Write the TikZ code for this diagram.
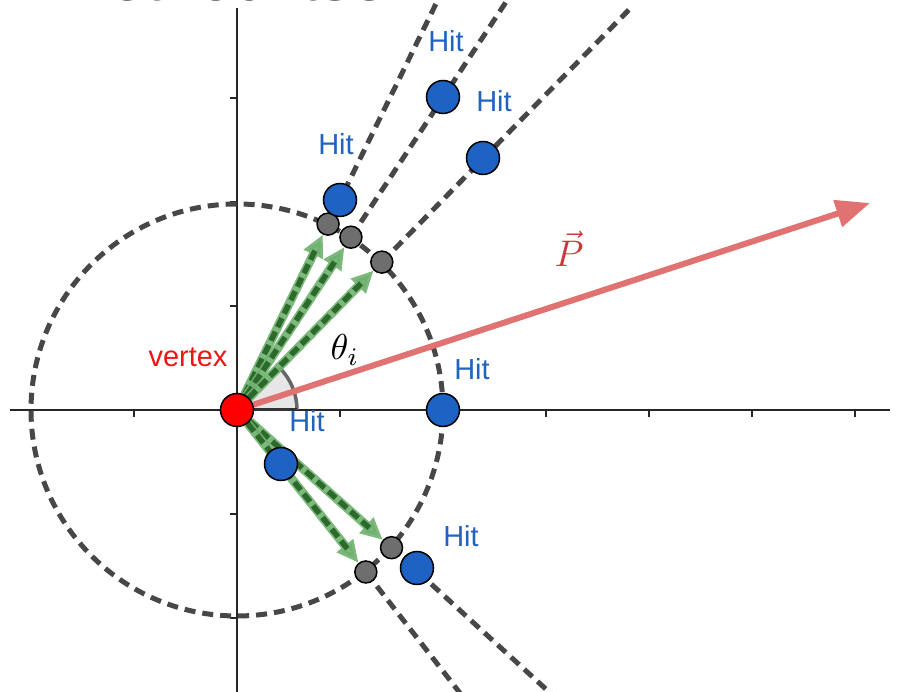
\documentclass[tikz,border=0pt]{standalone}
\usepackage{graphicx}
\usepackage{fontspec}
\setmainfont{Liberation Sans}
\usetikzlibrary{arrows.meta}
\definecolor{hitblue}{HTML}{1E62C4}
\definecolor{hittext}{HTML}{2064C0}
\definecolor{ptgray}{HTML}{6E6E6E}
\definecolor{dashgray}{HTML}{474747}
\definecolor{pred}{HTML}{E07272}
\definecolor{plabel}{HTML}{C83A3A}
\definecolor{vred}{HTML}{EE1515}
\definecolor{glight}{HTML}{6FB06F}
\definecolor{gdark}{HTML}{2B6A2B}
\definecolor{wedgegray}{HTML}{E6E6E6}
\definecolor{arcgray}{HTML}{666666}
\pgfdeclarelayer{background}
\pgfdeclarelayer{mid}
\pgfsetlayers{background,mid,main}
\begin{document}
\begin{tikzpicture}[x=1pt,y=1pt,
  axisline/.style={draw=black!85, line width=1.6pt},
  tickline/.style={draw=black!85, line width=1.4pt},
  dline/.style={draw=dashgray, line width=5pt, dash pattern=on 11pt off 7pt},
  hitpt/.style={circle, fill=hitblue, draw=black, line width=1.5pt, minimum size=33pt, inner sep=0pt},
  graypt/.style={circle, fill=ptgray, draw=black, line width=1.5pt, minimum size=22pt, inner sep=0pt},
  vertexpt/.style={circle, fill=red, draw=black, line width=1.5pt, minimum size=33pt, inner sep=0pt},
  hitlabel/.style={text=hittext, font=\fontsize{29}{30}\selectfont, anchor=base, inner sep=0pt},
  glightarrow/.style={draw=glight, opacity=0.9, line width=9pt, -{Triangle[length=22pt,width=20pt]}},
  gdarkline/.style={draw=gdark, line width=5.5pt, dash pattern=on 10pt off 5pt, shorten >=18pt},
  parrow/.style={draw=pred, line width=6pt, -{Triangle[length=34pt,width=27pt]}},
]
\clip (-237,-282) rectangle (666,410);
\useasboundingbox (-237,-282) rectangle (666,410);

% title, cut off by the top edge
\node[anchor=base west, inner sep=0pt, text=black!88, font=\fontsize{64}{65}\selectfont] (title) at (-181,409) {method itself};

% coordinates on the circle and far ends of the rays
\foreach \a/\b/\n in {63.9/63.9/1,56.6/56.6/2,45.6/45.6/3,-41.7/-42.2/4,-51.5/-51.9/5}{
  \coordinate (c\n) at (\a:207);
  \coordinate (f\n) at (\b:560);
}
\coordinate (pend) at (633,207);

% nodes
\node[vertexpt] (v) at (0,0) {};
\foreach \n in {1,...,5}{ \node[graypt] (g\n) at (c\n) {}; }
\node[hitpt] (h1) at (103,210) {};
\node[hitpt] (h2) at (206,313) {};
\node[hitpt] (h3) at (246,252) {};
\node[hitpt] (h4) at (206,0) {};
\node[hitpt] (h5) at (44,-54) {};
\node[hitpt] (h6) at (180,-158) {};

% labels
\node[hitlabel] (l1) at (99,255) {Hit};
\node[hitlabel] (l2) at (209,358) {Hit};
\node[hitlabel] (l3) at (257,298) {Hit};
\node[hitlabel] (l4) at (235,30) {Hit};
\node[hitlabel] (l5) at (70,-22) {Hit};
\node[hitlabel] (l6) at (224,-137) {Hit};
\node[text=vred, font=\fontsize{29}{30}\selectfont, anchor=base, inner sep=0pt] (vl) at (-49,43) {vertex};
\node[anchor=base, inner sep=0pt] (theta) at (108,50) {\scalebox{3.6}{$\theta_i$}};
\node[anchor=base, inner sep=0pt, text=plabel] (plab) at (332,143) {\scalebox{3.7}{$\vec{P}$}};

% background: axes, ticks, circle, rays
\begin{pgfonlayer}{background}
  \coordinate (xl) at (-227,0); \coordinate (xr) at (653,0);
  \coordinate (yb) at (0,-282); \coordinate (yt) at (0,402);
  \draw[axisline] (xl) -- (xr);
  \draw[axisline] (yb) -- (yt);
  \foreach \i in {-2,-1,1,2,3,4,5,6}{ \draw[tickline] (\i*103,0) -- ++(0,-7); }
  \foreach \j in {-2,-1,1,2,3}{ \draw[tickline] (0,\j*104) -- ++(-7,0); }
  \draw[dline] (v.center) circle[radius=206];
  \foreach \n in {1,...,5}{ \draw[dline] (g\n.center) -- (f\n); }
\end{pgfonlayer}

% middle: angle wedge, momentum arrow, green arrows
\begin{pgfonlayer}{mid}
  \fill[wedgegray] (v.center) -- (60,0) arc[start angle=0, end angle=45, radius=60] -- cycle;
  \draw[draw=arcgray, line width=3.5pt] (60,0) arc[start angle=0, end angle=45, radius=60];
  \draw[draw=black!80, line width=3pt] (v.center) -- (60,0);
  \draw[parrow] (v) -- (pend);
  \foreach \n in {1,...,5}{
    \draw[glightarrow] (v) -- (g\n);
    \draw[gdarkline] (v) -- (g\n);
  }
\end{pgfonlayer}
\end{tikzpicture}
\end{document}
